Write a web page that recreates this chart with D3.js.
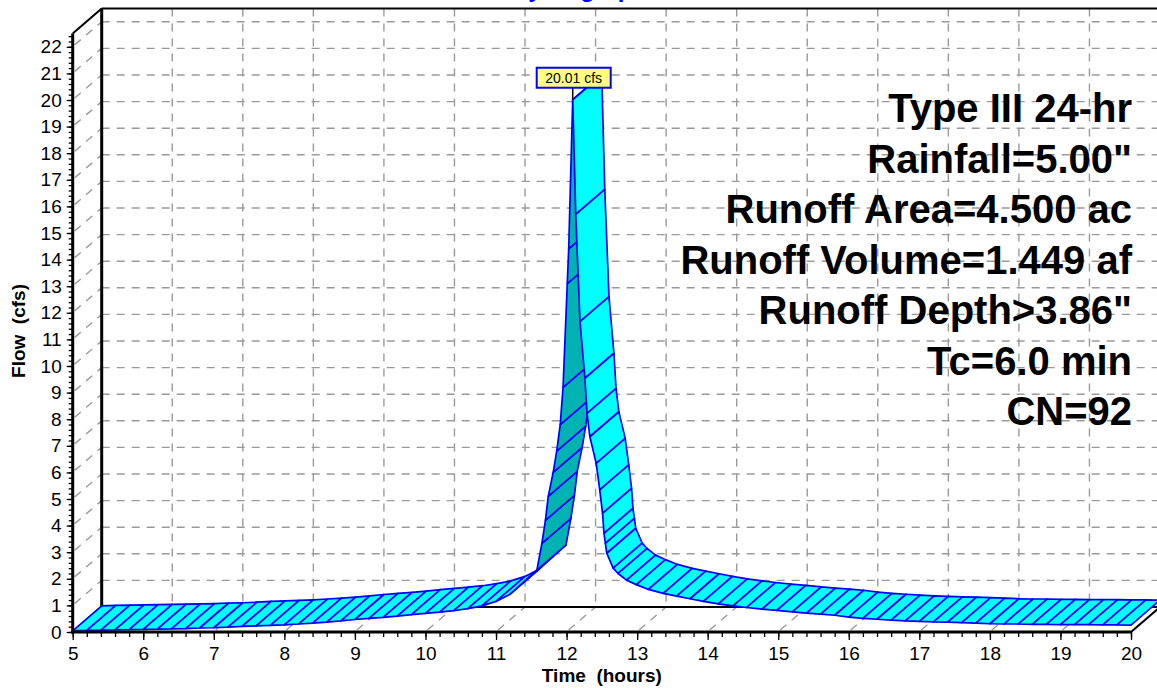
<!DOCTYPE html>
<html><head><meta charset="utf-8">
<script src="https://cdn.jsdelivr.net/npm/d3@7/dist/d3.min.js"></script>
<style>body{margin:0;background:#fff}svg{display:block}</style>
</head><body>
<script>
// ---- data ----
const times = [5.0,5.2,5.4,5.6,5.8,6.0,6.2,6.4,6.6,6.8,7.0,7.2,7.4,7.6,7.8,8.0,8.2,8.4,8.6,8.8,9.0,9.2,9.4,9.6,9.8,10.0,10.2,10.4,10.6,10.8,11.0,11.2,11.4,11.58,
  11.65,11.70,11.74,11.81,11.86,11.91,11.95,12.01,12.03,12.087,
  12.13,12.19,12.26,12.29,12.33,12.42,12.47,12.51,12.53,12.55,12.57,12.66,12.73,12.85,12.99,13.16,13.37,13.56,13.75,13.94,14.15,14.36,14.55,14.77,14.98,
  15.2,15.4,15.6,15.8,16.0,16.2,16.4,16.6,16.8,17.0,17.2,17.4,17.6,17.8,18.0,18.2,18.4,18.6,18.8,19.0,19.2,19.4,19.6,19.8,20.0];
const flows = [0.04,0.06,0.07,0.08,0.09,0.10,0.11,0.12,0.13,0.15,0.16,0.18,0.21,0.23,0.25,0.27,0.30,0.33,0.37,0.42,0.47,0.51,0.55,0.60,0.65,0.70,0.75,0.80,0.88,0.98,1.15,1.42,1.90,2.33,
  3.33,4.2,5.1,6.0,6.8,7.8,9.2,13.1,14.4,20.01,
  15.7,11.67,9.54,8.22,7.34,6.34,5.34,4.46,3.71,3.33,2.96,2.4,2.2,1.95,1.78,1.6,1.45,1.35,1.25,1.15,1.06,0.98,0.92,0.86,0.81,
  0.76,0.71,0.67,0.63,0.56,0.51,0.48,0.45,0.42,0.40,0.38,0.37,0.35,0.33,0.31,0.30,0.30,0.29,0.29,0.28,0.28,0.28,0.27,0.27,0.26];
const xTicks = d3.range(5, 21, 1);
const yTicks = d3.range(0, 23, 1);
const peakTime = 12.087, peakFlow = 20.01;
const peakLabel = "20.01 cfs";
const titleText = "Hydrograph";
const xTitle = "Time  (hours)";
const yTitle = "Flow  (cfs)";
const infoLines = ["Type III 24-hr", "Rainfall=5.00\"", "Runoff Area=4.500 ac", "Runoff Volume=1.449 af", "Runoff Depth>3.86\"", "Tc=6.0 min", "CN=92"];

// ---- layout ----
const W = 1157, H = 688;
const DX = 29, DY = -25;
const FONT = "'Liberation Sans', Arial, Helvetica, sans-serif";
const x = d3.scaleLinear().domain([5, 20]).range([72.7, 1131]);
const y = d3.scaleLinear().domain([0, 22.5]).range([632, 33.5]);

const svg = d3.select("body").append("svg").attr("width", W).attr("height", H)
  .style("font-family", FONT);

// title (mostly cut off at top)
svg.append("text").attr("x", 579).attr("y", -3).attr("text-anchor", "middle")
  .attr("font-size", 24).attr("font-weight", "bold").attr("fill", "#0000FF").text(titleText);

const grid = svg.append("g").attr("stroke", "#9a9a9a").attr("stroke-width", 1.4)
  .attr("stroke-dasharray", "8,7").attr("fill", "none");
// back wall verticals
grid.selectAll(".gv").data(xTicks.filter(t => t > 5)).join("line")
  .attr("x1", d => x(d) + DX).attr("x2", d => x(d) + DX)
  .attr("y1", y(22.5) + DY).attr("y2", y(0) + DY);
// back wall horizontals
grid.selectAll(".gh").data(yTicks.filter(v => v > 0)).join("line")
  .attr("x1", x(5) + DX).attr("x2", x(20) + DX)
  .attr("y1", d => y(d) + DY).attr("y2", d => y(d) + DY);
// left wall diagonals
grid.selectAll(".gl").data(yTicks.filter(v => v > 0)).join("line")
  .attr("x1", x(5) + 2).attr("y1", d => y(d) - 2)
  .attr("x2", x(5) + DX).attr("y2", d => y(d) + DY);
// floor diagonals
grid.selectAll(".gf").data(xTicks.filter(t => t > 5 && t < 20)).join("line")
  .attr("x1", d => x(d) + 2).attr("y1", y(0) - 2)
  .attr("x2", d => x(d) + DX).attr("y2", y(0) + DY);

// frame (back edges)
const frame = svg.append("g").attr("stroke", "#000").attr("fill", "none");
frame.append("line").attr("x1", x(5) + DX).attr("x2", x(5) + DX)
  .attr("y1", y(22.5) + DY).attr("y2", y(0) + DY).attr("stroke-width", 3);
frame.append("line").attr("x1", x(5) + DX).attr("x2", x(20) + DX + 5)
  .attr("y1", y(22.5) + DY).attr("y2", y(22.5) + DY).attr("stroke-width", 2);
frame.append("line").attr("x1", x(5)).attr("y1", y(22.5))
  .attr("x2", x(5) + DX).attr("y2", y(22.5) + DY).attr("stroke-width", 2);
frame.append("line").attr("x1", x(5) + DX).attr("x2", x(20) + DX + 5)
  .attr("y1", y(0) + DY).attr("y2", y(0) + DY).attr("stroke-width", 2);
frame.append("line").attr("x1", x(20)).attr("y1", y(0))
  .attr("x2", x(20) + DX).attr("y2", y(0) + DY).attr("stroke-width", 2);
frame.append("line").attr("x1", x(5)).attr("y1", y(0))
  .attr("x2", x(5) + DX).attr("y2", y(0) + DY).attr("stroke-width", 1.5);

// ---- ribbon ----
const pts = times.map((t, i) => [x(t), y(flows[i])]);
const quads = d3.pairs(pts).map(([a, b]) => {
  const cross = (b[0] - a[0]) * DY - (b[1] - a[1]) * DX;
  return { poly: [a, b, [b[0] + DX, b[1] + DY], [a[0] + DX, a[1] + DY]], under: cross > 0 };
});
svg.append("g").selectAll("polygon").data(quads).join("polygon")
  .attr("points", d => d.poly.map(p => p.join(",")).join(" "))
  .attr("fill", d => d.under ? "#00B2B2" : "#00FFFF")
  .attr("stroke", "#0000FF").attr("stroke-width", 1.7).attr("stroke-linejoin", "round");

// ---- axes ----
const yAxis = svg.append("g").attr("transform", `translate(${x(5)},0)`)
  .call(d3.axisLeft(y).tickValues(yTicks).tickSize(6).tickPadding(5).tickFormat(d3.format("d")));
const yMinor = svg.append("g").attr("transform", `translate(${x(5)},0)`)
  .call(d3.axisLeft(y).tickValues(d3.range(0, 22.41, 0.2)).tickSize(4).tickFormat(""));
const xAxis = svg.append("g").attr("transform", `translate(0,${y(0)})`)
  .call(d3.axisBottom(x).tickValues(xTicks).tickSize(8).tickPadding(7).tickFormat(d3.format("d")));
const xMinor = svg.append("g").attr("transform", `translate(0,${y(0)})`)
  .call(d3.axisBottom(x).tickValues(d3.range(5, 20.01, 0.2)).tickSize(5).tickFormat(""));
[yAxis, yMinor, xAxis, xMinor].forEach(g => {
  g.select(".domain").remove();
  g.selectAll("line").attr("stroke", "#000").attr("stroke-width", 1.3);
  g.selectAll("text").attr("font-size", 19).attr("font-family", FONT).attr("fill", "#000");
});
svg.append("line").attr("x1", x(5)).attr("x2", x(5)).attr("y1", y(0) + 1.5).attr("y2", y(22.5))
  .attr("stroke", "#000").attr("stroke-width", 3);
svg.append("line").attr("x1", x(5) - 1.5).attr("x2", x(20)).attr("y1", y(0)).attr("y2", y(0))
  .attr("stroke", "#000").attr("stroke-width", 3);

// axis titles
svg.append("text").attr("x", (x(5) + x(20)) / 2).attr("y", 682).attr("text-anchor", "middle")
  .attr("font-size", 19).attr("font-weight", "bold").style("white-space", "pre").text(xTitle);
svg.append("text").attr("transform", "translate(25,331) rotate(-90)").attr("text-anchor", "middle")
  .attr("font-size", 19).attr("font-weight", "bold").style("white-space", "pre").text(yTitle);

// info text
svg.append("g").selectAll("text").data(infoLines).join("text")
  .attr("x", 1132).attr("y", (d, i) => 122 + i * 50.5).attr("text-anchor", "end")
  .attr("font-size", 40).attr("font-weight", "bold").attr("fill", "#000").text(d => d);

// peak label
const px = x(peakTime), py = y(peakFlow);
svg.append("line").attr("x1", px).attr("x2", px).attr("y1", py).attr("y2", py - 12)
  .attr("stroke", "#000").attr("stroke-width", 1.5);
svg.append("rect").attr("x", px - 36).attr("y", py - 32).attr("width", 74).attr("height", 20)
  .attr("fill", "#FFFF80").attr("stroke", "#0000FF").attr("stroke-width", 2);
svg.append("text").attr("x", px + 1).attr("y", py - 17).attr("text-anchor", "middle")
  .attr("font-size", 14).attr("fill", "#000").text(peakLabel);
</script>
</body></html>
